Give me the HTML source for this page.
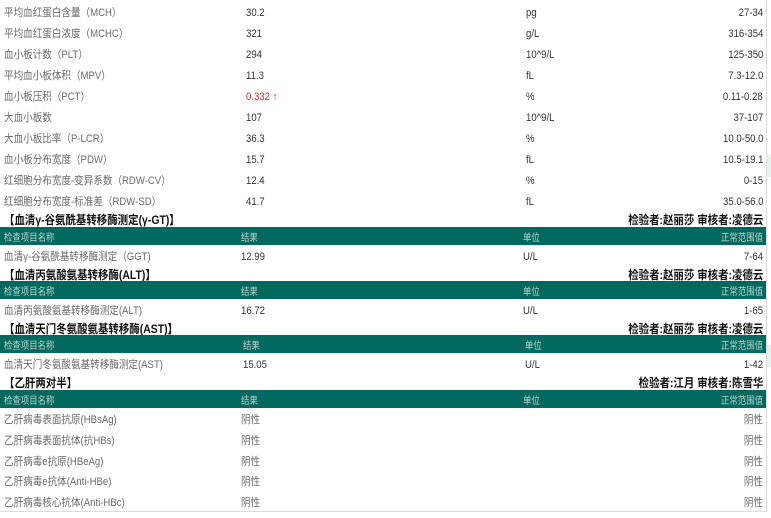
<!DOCTYPE html>
<html><head><meta charset="utf-8"><style>
html,body{margin:0;padding:0;background:#fff;}
body{width:771px;height:518px;position:relative;overflow:hidden;font-family:"Liberation Sans","Noto Sans CJK SC",sans-serif;}
.t{position:absolute;white-space:nowrap;line-height:14px;font-size:11px;color:#333;transform:scaleX(.87);transform-origin:left center;margin-top:1px;}
.n{color:#6a6a6a;}
.r{right:8px;transform-origin:right center;}
.h{font-size:12px;font-weight:bold;color:#111;margin-top:2px;}
.bar{position:absolute;left:0;width:766px;height:18px;background:#00695f;}
.g{font-size:10px;color:#bcd3cf;transform:scaleX(.84);margin-top:3px;}
.red{color:#ff2020;}
</style></head><body>
<div style="position:absolute;left:766px;top:0;width:1px;height:512px;background:#dcdcdc"></div>
<div style="position:absolute;left:0;top:511px;width:767px;height:1px;background:#dcdcdc"></div>
<div style="position:absolute;left:767px;top:155px;width:4px;height:22px;background:#e6f2ea"></div>
<div style="position:absolute;left:767px;top:345px;width:4px;height:22px;background:#e6f2ea"></div>

<!-- top rows -->
<div class="t n" style="left:4px;top:5px">平均血红蛋白含量（MCH）</div><div class="t" style="left:246px;top:5px">30.2</div><div class="t" style="left:526px;top:5px">pg</div><div class="t r" style="top:5px">27-34</div>
<div class="t n" style="left:4px;top:26px">平均血红蛋白浓度（MCHC）</div><div class="t" style="left:246px;top:26px">321</div><div class="t" style="left:526px;top:26px">g/L</div><div class="t r" style="top:26px">316-354</div>
<div class="t n" style="left:4px;top:47px">血小板计数（PLT）</div><div class="t" style="left:246px;top:47px">294</div><div class="t" style="left:526px;top:47px">10^9/L</div><div class="t r" style="top:47px">125-350</div>
<div class="t n" style="left:4px;top:68px">平均血小板体积（MPV）</div><div class="t" style="left:246px;top:68px">11.3</div><div class="t" style="left:526px;top:68px">fL</div><div class="t r" style="top:68px">7.3-12.0</div>
<div class="t n" style="left:4px;top:89px">血小板压积（PCT）</div><div class="t red" style="left:246px;top:89px">0.332 ↑</div><div class="t" style="left:526px;top:89px">%</div><div class="t r" style="top:89px">0.11-0.28</div>
<div class="t n" style="left:4px;top:110px">大血小板数</div><div class="t" style="left:246px;top:110px">107</div><div class="t" style="left:526px;top:110px">10^9/L</div><div class="t r" style="top:110px">37-107</div>
<div class="t n" style="left:4px;top:131px">大血小板比率（P-LCR）</div><div class="t" style="left:246px;top:131px">36.3</div><div class="t" style="left:526px;top:131px">%</div><div class="t r" style="top:131px">10.0-50.0</div>
<div class="t n" style="left:4px;top:152px">血小板分布宽度（PDW）</div><div class="t" style="left:246px;top:152px">15.7</div><div class="t" style="left:526px;top:152px">fL</div><div class="t r" style="top:152px">10.5-19.1</div>
<div class="t n" style="left:4px;top:173px">红细胞分布宽度-变异系数（RDW-CV）</div><div class="t" style="left:246px;top:173px">12.4</div><div class="t" style="left:526px;top:173px">%</div><div class="t r" style="top:173px">0-15</div>
<div class="t n" style="left:4px;top:194px">红细胞分布宽度-标准差（RDW-SD）</div><div class="t" style="left:246px;top:194px">41.7</div><div class="t" style="left:526px;top:194px">fL</div><div class="t r" style="top:194px">35.0-56.0</div>

<!-- GGT -->
<div class="t h" style="left:4px;top:211px">【血清γ-谷氨酰基转移酶测定(γ-GT)】</div>
<div class="t h r" style="top:211px">检验者:赵丽莎 审核者:凌德云</div>
<div class="bar" style="top:227px"></div>
<div class="t g" style="left:4px;top:229px">检查项目名称</div><div class="t g" style="left:241px;top:229px">结果</div><div class="t g" style="left:523px;top:229px">单位</div><div class="t g r" style="top:229px">正常范围值</div>
<div class="t n" style="left:4px;top:249px">血清γ-谷氨酰基转移酶测定（GGT)</div><div class="t" style="left:241px;top:249px">12.99</div><div class="t" style="left:523px;top:249px">U/L</div><div class="t r" style="top:249px">7-64</div>

<!-- ALT -->
<div class="t h" style="left:4px;top:266px">【血清丙氨酸氨基转移酶(ALT)】</div>
<div class="t h r" style="top:266px">检验者:赵丽莎 审核者:凌德云</div>
<div class="bar" style="top:281px"></div>
<div class="t g" style="left:4px;top:283px">检查项目名称</div><div class="t g" style="left:241px;top:283px">结果</div><div class="t g" style="left:523px;top:283px">单位</div><div class="t g r" style="top:283px">正常范围值</div>
<div class="t n" style="left:4px;top:303px">血清丙氨酸氨基转移酶测定(ALT)</div><div class="t" style="left:241px;top:303px">16.72</div><div class="t" style="left:523px;top:303px">U/L</div><div class="t r" style="top:303px">1-65</div>

<!-- AST -->
<div class="t h" style="left:4px;top:320px">【血清天门冬氨酸氨基转移酶(AST)】</div>
<div class="t h r" style="top:320px">检验者:赵丽莎 审核者:凌德云</div>
<div class="bar" style="top:335px"></div>
<div class="t g" style="left:4px;top:337px">检查项目名称</div><div class="t g" style="left:243px;top:337px">结果</div><div class="t g" style="left:525px;top:337px">单位</div><div class="t g r" style="top:337px">正常范围值</div>
<div class="t n" style="left:4px;top:357px">血清天门冬氨酸氨基转移酶测定(AST)</div><div class="t" style="left:243px;top:357px">15.05</div><div class="t" style="left:525px;top:357px">U/L</div><div class="t r" style="top:357px">1-42</div>

<!-- HBV -->
<div class="t h" style="left:4px;top:374px">【乙肝两对半】</div>
<div class="t h r" style="top:374px">检验者:江月 审核者:陈雪华</div>
<div class="bar" style="top:390px"></div>
<div class="t g" style="left:4px;top:392px">检查项目名称</div><div class="t g" style="left:241px;top:392px">结果</div><div class="t g" style="left:523px;top:392px">单位</div><div class="t g r" style="top:392px">正常范围值</div>
<div class="t n" style="left:4px;top:412px">乙肝病毒表面抗原(HBsAg)</div><div class="t n" style="left:241px;top:412px">阴性</div><div class="t n r" style="top:412px">阴性</div>
<div class="t n" style="left:4px;top:433px">乙肝病毒表面抗体(抗HBs)</div><div class="t n" style="left:241px;top:433px">阴性</div><div class="t n r" style="top:433px">阴性</div>
<div class="t n" style="left:4px;top:454px">乙肝病毒e抗原(HBeAg)</div><div class="t n" style="left:241px;top:454px">阴性</div><div class="t n r" style="top:454px">阴性</div>
<div class="t n" style="left:4px;top:474px">乙肝病毒e抗体(Anti-HBe)</div><div class="t n" style="left:241px;top:474px">阴性</div><div class="t n r" style="top:474px">阴性</div>
<div class="t n" style="left:4px;top:495px">乙肝病毒核心抗体(Anti-HBc)</div><div class="t n" style="left:241px;top:495px">阴性</div><div class="t n r" style="top:495px">阴性</div>
</body></html>
